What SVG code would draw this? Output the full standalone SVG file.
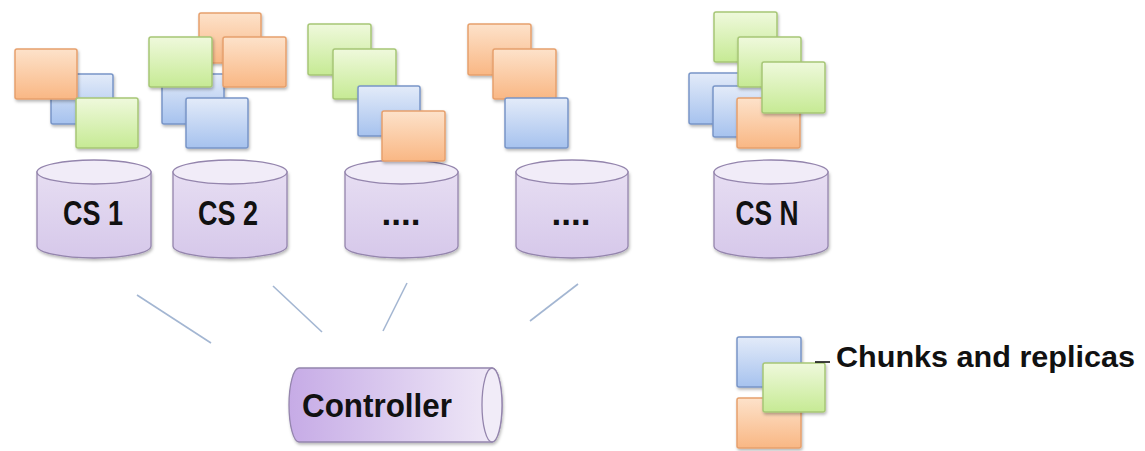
<svg xmlns="http://www.w3.org/2000/svg" width="1145" height="451" viewBox="0 0 1145 451">
  <defs>
    <linearGradient id="gOrange" x1="0" y1="0" x2="0" y2="1">
      <stop offset="0" stop-color="#fde2ca"/>
      <stop offset="1" stop-color="#f9b784"/>
    </linearGradient>
    <linearGradient id="gGreen" x1="0" y1="0" x2="0" y2="1">
      <stop offset="0" stop-color="#eff9dc"/>
      <stop offset="1" stop-color="#c6ea94"/>
    </linearGradient>
    <linearGradient id="gBlue" x1="0" y1="0" x2="0" y2="1">
      <stop offset="0" stop-color="#e3ebf9"/>
      <stop offset="1" stop-color="#a6c2ee"/>
    </linearGradient>
    <linearGradient id="gDrum" x1="0" y1="0" x2="0" y2="1">
      <stop offset="0" stop-color="#e6ddf2"/>
      <stop offset="1" stop-color="#d6c8ea"/>
    </linearGradient>
    <linearGradient id="gPipe" x1="0" y1="0" x2="1" y2="0">
      <stop offset="0" stop-color="#c6abe6"/>
      <stop offset="1" stop-color="#f1ebf8"/>
    </linearGradient>
    <filter id="shadow" x="-20%" y="-20%" width="150%" height="150%">
      <feDropShadow dx="1" dy="2" stdDeviation="1.5" flood-color="#000" flood-opacity="0.28"/>
    </filter>
  </defs>
  <style>
    .chunk { stroke-width: 1.5; filter: url(#shadow); }
    .o { fill: url(#gOrange); stroke: #e6a06c; }
    .g { fill: url(#gGreen); stroke: #a6c676; }
    .b { fill: url(#gBlue); stroke: #7895c7; }
    .drum { fill: url(#gDrum); stroke: #9485ad; stroke-width: 1.3; filter: url(#shadow); }
    .lid { fill: #f1ecf8; stroke: #9485ad; stroke-width: 1.3; }
    .pipe { fill: url(#gPipe); stroke: #9485ad; stroke-width: 1.3; filter: url(#shadow); }
    .label { font-family: "Liberation Sans", Arial, sans-serif; font-weight: bold; fill: #111; }
    .link { stroke: #a3b6d2; stroke-width: 1.6; fill: none; }
  </style>

  <rect width="1145" height="451" fill="#ffffff"/>

  <!-- chunk server 1 -->
  <g id="cs1">
    <path class="drum" d="M37,172 L37,246 A57,12 0 0 0 151,246 L151,172 Z"/>
    <ellipse class="lid" cx="94" cy="172" rx="57" ry="12"/>
    <text class="label" x="93" y="225" font-size="35" text-anchor="middle" textLength="60" lengthAdjust="spacingAndGlyphs">CS 1</text>
    <rect class="chunk b" x="51" y="74" width="62" height="50" rx="2"/>
    <rect class="chunk o" x="15" y="49" width="62" height="50" rx="2"/>
    <rect class="chunk g" x="76" y="98" width="62" height="50" rx="2"/>
  </g>

  <!-- chunk server 2 -->
  <g id="cs2">
    <path class="drum" d="M173,172 L173,246 A57,12 0 0 0 287,246 L287,172 Z"/>
    <ellipse class="lid" cx="230" cy="172" rx="57" ry="12"/>
    <text class="label" x="228" y="225" font-size="35" text-anchor="middle" textLength="60" lengthAdjust="spacingAndGlyphs">CS 2</text>
    <rect class="chunk o" x="199" y="13" width="62" height="50" rx="2"/>
    <rect class="chunk b" x="162" y="74" width="62" height="50" rx="2"/>
    <rect class="chunk g" x="149" y="37" width="63" height="50" rx="2"/>
    <rect class="chunk o" x="223" y="37" width="63" height="50" rx="2"/>
    <rect class="chunk b" x="186" y="98" width="62" height="50" rx="2"/>
  </g>

  <!-- chunk server 3 -->
  <g id="cs3">
    <path class="drum" d="M345,172 L345,246 A56.5,12 0 0 0 458,246 L458,172 Z"/>
    <ellipse class="lid" cx="401.5" cy="172" rx="56.5" ry="12"/>
    <text class="label" x="401" y="225" font-size="35" text-anchor="middle">....</text>
    <rect class="chunk g" x="308" y="24" width="63" height="51" rx="2"/>
    <rect class="chunk g" x="333" y="49" width="63" height="50" rx="2"/>
    <rect class="chunk b" x="358" y="86" width="62" height="50" rx="2"/>
    <rect class="chunk o" x="382" y="111" width="63" height="50" rx="2"/>
  </g>

  <!-- chunk server 4 -->
  <g id="cs4">
    <path class="drum" d="M516,172 L516,246 A56,12 0 0 0 628,246 L628,172 Z"/>
    <ellipse class="lid" cx="572" cy="172" rx="56" ry="12"/>
    <text class="label" x="571" y="225" font-size="35" text-anchor="middle">....</text>
    <rect class="chunk o" x="468" y="24" width="63" height="51" rx="2"/>
    <rect class="chunk o" x="493" y="49" width="63" height="50" rx="2"/>
    <rect class="chunk b" x="505" y="98" width="63" height="50" rx="2"/>
  </g>

  <!-- chunk server N -->
  <g id="csN">
    <path class="drum" d="M714,172 L714,246 A57,12 0 0 0 828,246 L828,172 Z"/>
    <ellipse class="lid" cx="771" cy="172" rx="57" ry="12"/>
    <text class="label" x="767" y="225" font-size="35" text-anchor="middle" textLength="63" lengthAdjust="spacingAndGlyphs">CS N</text>
    <rect class="chunk b" x="689" y="73" width="62" height="51" rx="2"/>
    <rect class="chunk b" x="713" y="86" width="62" height="51" rx="2"/>
    <rect class="chunk g" x="714" y="12" width="63" height="50" rx="2"/>
    <rect class="chunk g" x="738" y="37" width="63" height="50" rx="2"/>
    <rect class="chunk o" x="737" y="98" width="63" height="50" rx="2"/>
    <rect class="chunk g" x="762" y="62" width="63" height="51" rx="2"/>
  </g>

  <!-- links between the servers and the controller -->
  <g id="connectors">
    <line class="link" x1="137" y1="295" x2="211" y2="343"/>
    <line class="link" x1="273" y1="286" x2="322" y2="332"/>
    <line class="link" x1="407" y1="283" x2="383" y2="331"/>
    <line class="link" x1="578" y1="284" x2="530" y2="321"/>
  </g>

  <!-- controller -->
  <g id="controller">
    <path class="pipe" d="M299,368 L492,368 A10,37 0 0 1 492,442 L299,442 A10,37 0 0 1 299,368 Z"/>
    <ellipse class="lid" cx="492" cy="405" rx="10" ry="37"/>
    <text class="label" x="302" y="417" font-size="33" textLength="150" lengthAdjust="spacingAndGlyphs">Controller</text>
  </g>

  <!-- legend -->
  <g id="legend">
    <rect class="chunk b" x="737" y="337" width="64" height="50" rx="2"/>
    <rect class="chunk o" x="737" y="398" width="64" height="50" rx="2"/>
    <rect class="chunk g" x="763" y="363" width="62" height="49" rx="2"/>
    <line x1="815" y1="362" x2="830" y2="362" stroke="#111" stroke-width="1.6"/>
    <text class="label" x="836" y="367" font-size="30" textLength="299" lengthAdjust="spacingAndGlyphs">Chunks and replicas</text>
  </g>
</svg>
